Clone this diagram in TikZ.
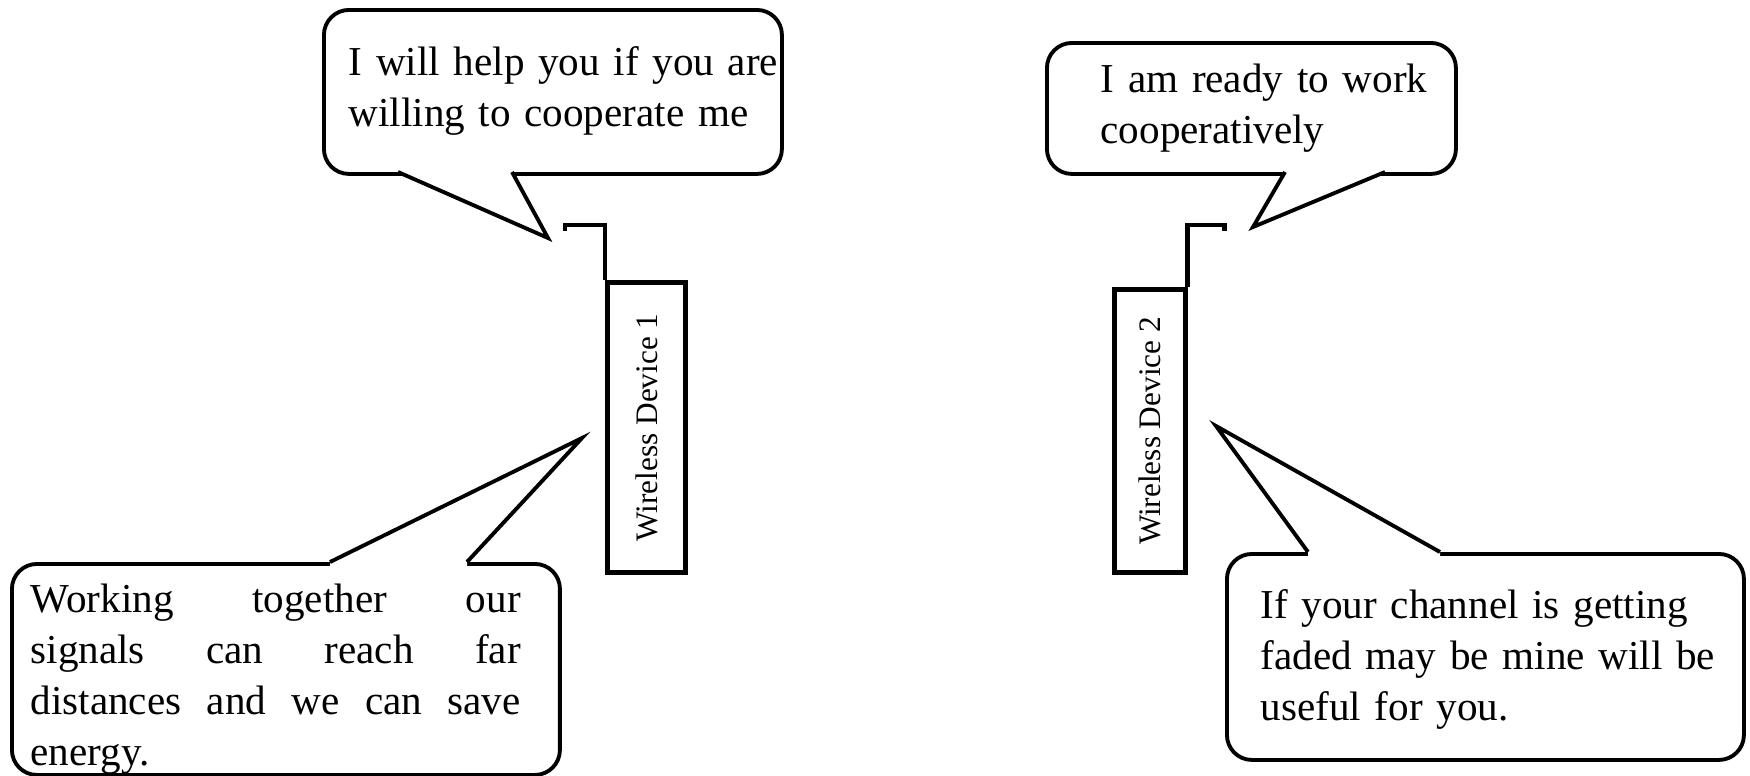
\documentclass[tikz,border=0pt]{standalone}
\usepackage{fontspec}
\setmainfont{Liberation Serif}
\usetikzlibrary{positioning}

\tikzset{
  bubble/.style={draw, line width=1.1pt, rounded corners=2.5mm, anchor=north west, inner sep=0pt},
  speech/.style={anchor=base west, align=left, inner sep=0pt, font=\fontsize{11.7}{14.6}\selectfont},
  device/.style={draw, line width=1.4pt, anchor=north west, inner sep=0pt, font=\fontsize{8.9}{10}\selectfont},
  aerial/.style={line width=1.4pt, line join=miter},
  tail/.style={line width=1.1pt, line join=miter}
}

\begin{document}
\begin{tikzpicture}[x=0.1mm, y=-0.1mm]
  \useasboundingbox (0,0) rectangle (1750,775);

  % the two devices and their aerials
  \node[device, minimum width=7.8mm, minimum height=29mm] (dev1) at (605,280) {\rotatebox{90}{Wireless Device 1}};
  \node[device, minimum width=7.1mm, minimum height=28.3mm] (dev2) at (1112,287) {\rotatebox{90}{Wireless Device 2}};
  \draw[aerial] (dev1.north west) -- ++(0,-55) -- ++(-40,0) -- ++(0,6);
  \draw[aerial] (dev2.north east) -- ++(0,-62) -- ++(37,0) -- ++(0,6);

  % speech bubbles
  \node[bubble, minimum width=45.8mm, minimum height=16.4mm] (bubA) at (322,8) {};
  \node[bubble, minimum width=40.9mm, minimum height=13.1mm] (bubB) at (1045,41) {};
  \node[bubble, minimum width=54.8mm, minimum height=21.1mm] (bubC) at (10,562) {};
  \node[bubble, minimum width=51.7mm, minimum height=20.6mm] (bubD) at (1225,552) {};

  % tails
  \coordinate (tipA) at (548,238);
  \coordinate (A1) at (398,172);
  \coordinate (A2) at (512,172);
  \coordinate (tipB) at (1253,227);
  \coordinate (B1) at (1285,172);
  \coordinate (B2) at (1385,172);
  \coordinate (tipC) at (582,438);
  \coordinate (C1) at (330,562);
  \coordinate (C2) at (467,562);
  \coordinate (tipD) at (1216,426);
  \coordinate (D1) at (1308,552);
  \coordinate (D2) at (1440,552);

  \fill[white] (A1) -- (tipA) -- (A2) -- ([yshift=1.5pt]A2) -- ([yshift=1.5pt]A1) -- cycle;
  \draw[tail] (A1) -- (tipA) -- (A2);
  \fill[white] (B1) -- (tipB) -- (B2) -- ([yshift=1.5pt]B2) -- ([yshift=1.5pt]B1) -- cycle;
  \draw[tail] (B1) -- (tipB) -- (B2);
  \fill[white] (C1) -- (tipC) -- (C2) -- ([yshift=-1.5pt]C2) -- ([yshift=-1.5pt]C1) -- cycle;
  \draw[tail] (C1) -- (tipC) -- (C2);
  \fill[white] (D1) -- (tipD) -- (D2) -- ([yshift=-1.5pt]D2) -- ([yshift=-1.5pt]D1) -- cycle;
  \draw[tail] (D1) -- (tipD) -- (D2);

  % what they say
  \node[speech, text width=44mm] (txtA) at (348,75) {I will help you if you are\\willing to cooperate me};
  \node[speech, text width=36mm] (txtB) at (1100,92) {I am ready to work\\cooperatively};
  \node[speech, text width=49mm] (txtC) at (30,612) {\makebox[49mm][s]{Working\hfill together\hfill our}\\
    \makebox[49mm][s]{signals\hfill can\hfill reach\hfill far}\\
    \makebox[49mm][s]{distances\hfill and\hfill we\hfill can\hfill save}\\
    energy.};
  \node[speech, text width=46mm] (txtD) at (1260,618) {If your channel is getting\\faded may be mine will be\\useful for you.};
\end{tikzpicture}
\end{document}
